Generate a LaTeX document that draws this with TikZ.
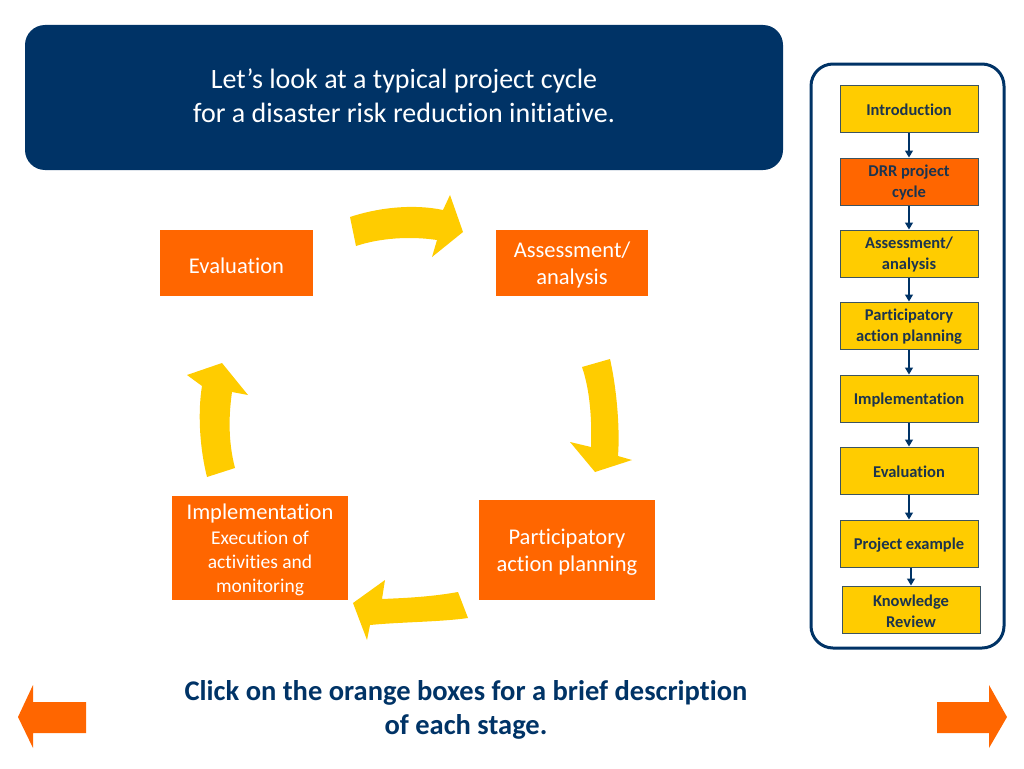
\documentclass[tikz,border=0pt]{standalone}
\usepackage{fontspec}
\setmainfont{Carlito}[Ligatures=NoCommon]
\usetikzlibrary{arrows.meta}
\definecolor{navy}{RGB}{0,51,102}
\definecolor{dorange}{RGB}{255,102,0}
\definecolor{dyellow}{RGB}{255,204,0}
\definecolor{sidetext}{RGB}{28,52,78}
\definecolor{sideborder}{RGB}{60,84,96}
\begin{document}
\begin{tikzpicture}[x=1pt,y=-1pt,
  stage/.style={fill=dorange, inner sep=0pt},
  stagetext/.style={text=white, inner sep=0pt, align=center, font=\fontsize{22.5}{27}\selectfont, yshift=-2.3pt},
  side/.style={draw=sideborder, line width=1pt, fill=dyellow, minimum width=138pt, minimum height=47pt, inner sep=0pt},
  sidetxt/.style={text=sidetext, inner sep=0pt, align=center, font=\bfseries\fontsize{16.5}{21}\selectfont, yshift=-1.5pt},
  sidearrow/.style={draw=navy, line width=1.2pt, -{Triangle[length=7pt,width=8pt]}},
  cyc/.style={fill=dyellow},
  nav/.style={fill=dorange}]
\useasboundingbox (0,0) rectangle (1024,768);
% header
\node[fill=navy, rounded corners=20pt, minimum width=758pt, minimum height=145pt, inner sep=0pt,
  label={[text=white, align=center, inner sep=0pt, font=\fontsize{28}{34}\selectfont, yshift=2pt]center:Let’s look at a typical project cycle\\for a disaster risk reduction initiative.}] (header) at (404,97.5) {};
% sidebar panel
\node[draw=navy, fill=white, line width=3pt, rounded corners=22pt, minimum width=193pt, minimum height=584pt, inner sep=0pt] (panel) at (907.5,356) {};
\node[side, label={[sidetxt]center:Introduction}] (s1) at (909,108.5) {};
\node[side, fill=dorange, label={[sidetxt]center:DRR project\\cycle}] (s2) at (909,181.5) {};
\node[side, label={[sidetxt]center:Assessment/\\analysis}] (s3) at (909,253.5) {};
\node[side, label={[sidetxt]center:Participatory\\action planning}] (s4) at (909,325.5) {};
\node[side, label={[sidetxt]center:Implementation}] (s5) at (909,398.5) {};
\node[side, label={[sidetxt]center:Evaluation}] (s6) at (909,470.5) {};
\node[side, label={[sidetxt]center:Project example}] (s7) at (909,543.5) {};
\node[side, label={[sidetxt]center:Knowledge\\Review}] (s8) at (911,609.5) {};
\draw[sidearrow] (s1) -- (s2);
\draw[sidearrow] (s2) -- (s3);
\draw[sidearrow] (s3) -- (s4);
\draw[sidearrow] (s4) -- (s5);
\draw[sidearrow] (s5) -- (s6);
\draw[sidearrow] (s6) -- (s7);
\draw[sidearrow] (s7.south -| s8.north) -- (s8.north);
% stage boxes
\node[stage, minimum width=153pt, minimum height=66pt, label={[stagetext]center:Evaluation}] (eval) at (236.5,263) {};
\node[stage, minimum width=152pt, minimum height=66pt, label={[stagetext]center:Assessment/\\analysis}] (assess) at (572,263) {};
\node[stage, minimum width=176pt, minimum height=104pt,
  label={[stagetext, font=\fontsize{19.5}{24}\selectfont, yshift=0.3pt]center:\fontsize{22.5}{25}\selectfont Implementation\\[1pt]Execution of\\activities and\\monitoring}] (impl) at (260,548) {};
\node[stage, minimum width=176pt, minimum height=100pt, label={[stagetext]center:Participatory\\action planning}] (part) at (567,550) {};
% cycle arrows
\fill[cyc] (350,217) .. controls (380,207) and (415,204) .. (443,210) -- (450,195) -- (463,232) -- (432,257) -- (437,240) .. controls (410,236) and (380,238) .. (356,246) -- cycle;
\fill[cyc] (582,367) -- (610,359) .. controls (617,390) and (620,430) .. (618,456) -- (632,460) -- (595,472) -- (570,442) -- (591,447) .. controls (592,420) and (590,390) .. cycle;
\fill[cyc] (458,592) .. controls (430,597) and (405,598) .. (382,599) -- (385,580) -- (353,603) -- (367,640) -- (370,625) .. controls (400,622) and (440,622) .. (468,618) -- cycle;
\fill[cyc] (207,477) .. controls (199,445) and (198,410) .. (202,386) -- (187,375) -- (222,363) -- (248,395) -- (232,392) .. controls (228,420) and (229,445) .. (235,468) -- cycle;
% bottom text
\node[text=navy, align=center, font=\bfseries\fontsize{28.5}{34}\selectfont] (hint) at (466,710)
  {Click on the orange boxes for a brief description\\of each stage.};
% navigation arrows
\fill[nav] (86,702) -- (33,702) -- (33,685) -- (18,717) -- (33,748) -- (33,733) -- (86,733) -- cycle;
\fill[nav] (937,702) -- (989,702) -- (989,685) -- (1007,717) -- (989,748) -- (989,733) -- (937,733) -- cycle;
\end{tikzpicture}
\end{document}
